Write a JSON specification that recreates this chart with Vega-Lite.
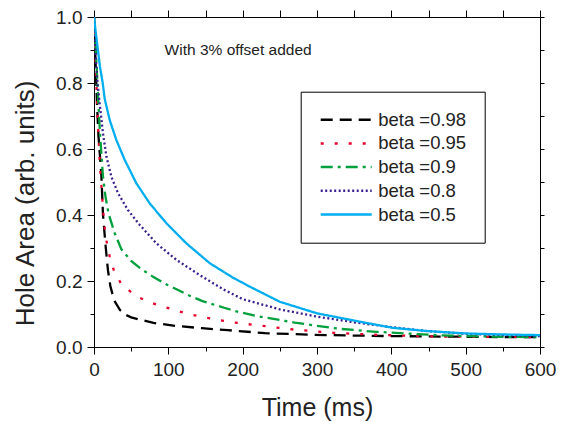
{
  "$schema": "https://vega.github.io/schema/vega-lite/v6.json",
  "width": 446,
  "height": 330,
  "autosize": {"type": "none"},
  "padding": {"left": 94, "top": 17, "right": 27, "bottom": 75},
  "background": "white",
  "config": {
    "font": "Liberation Sans",
    "view": {"stroke": "black", "strokeWidth": 1},
    "axis": {
      "grid": false,
      "domainColor": "black",
      "tickColor": "black",
      "labelColor": "#222",
      "titleColor": "#222",
      "titleFontWeight": "normal",
      "labelFontSize": 19,
      "labelFont": "Liberation Sans",
      "titleFont": "Liberation Sans"
    },
    "legend": {"labelFont": "Liberation Sans"}
  },
  "resolve": {"axis": {"x": "independent", "y": "independent"}},
  "layer": [
    {
      "data": {
        "values": [
          {"s": "beta =0.98", "t": 0, "v": 1.0},
          {"s": "beta =0.98", "t": 2, "v": 0.87},
          {"s": "beta =0.98", "t": 4, "v": 0.74},
          {"s": "beta =0.98", "t": 6, "v": 0.64},
          {"s": "beta =0.98", "t": 8, "v": 0.58},
          {"s": "beta =0.98", "t": 9.9, "v": 0.52},
          {"s": "beta =0.98", "t": 12.1, "v": 0.4},
          {"s": "beta =0.98", "t": 15.7, "v": 0.304},
          {"s": "beta =0.98", "t": 18.8, "v": 0.232},
          {"s": "beta =0.98", "t": 22, "v": 0.185},
          {"s": "beta =0.98", "t": 27, "v": 0.142},
          {"s": "beta =0.98", "t": 35, "v": 0.112},
          {"s": "beta =0.98", "t": 42, "v": 0.098},
          {"s": "beta =0.98", "t": 50, "v": 0.09},
          {"s": "beta =0.98", "t": 60, "v": 0.084},
          {"s": "beta =0.98", "t": 80, "v": 0.073},
          {"s": "beta =0.98", "t": 110, "v": 0.064},
          {"s": "beta =0.98", "t": 145, "v": 0.057},
          {"s": "beta =0.98", "t": 180, "v": 0.051},
          {"s": "beta =0.98", "t": 230, "v": 0.042},
          {"s": "beta =0.98", "t": 295, "v": 0.037},
          {"s": "beta =0.98", "t": 340, "v": 0.035},
          {"s": "beta =0.98", "t": 400, "v": 0.033},
          {"s": "beta =0.98", "t": 450, "v": 0.032},
          {"s": "beta =0.98", "t": 500, "v": 0.031},
          {"s": "beta =0.98", "t": 550, "v": 0.03},
          {"s": "beta =0.98", "t": 600, "v": 0.03},
          {"s": "beta =0.95", "t": 0, "v": 1.0},
          {"s": "beta =0.95", "t": 2, "v": 0.88},
          {"s": "beta =0.95", "t": 4, "v": 0.75},
          {"s": "beta =0.95", "t": 6, "v": 0.64},
          {"s": "beta =0.95", "t": 8, "v": 0.55},
          {"s": "beta =0.95", "t": 9.9, "v": 0.491},
          {"s": "beta =0.95", "t": 12, "v": 0.42},
          {"s": "beta =0.95", "t": 14.4, "v": 0.36},
          {"s": "beta =0.95", "t": 17.5, "v": 0.312},
          {"s": "beta =0.95", "t": 21.1, "v": 0.274},
          {"s": "beta =0.95", "t": 26.9, "v": 0.231},
          {"s": "beta =0.95", "t": 36.9, "v": 0.19},
          {"s": "beta =0.95", "t": 56, "v": 0.155},
          {"s": "beta =0.95", "t": 75, "v": 0.135},
          {"s": "beta =0.95", "t": 94, "v": 0.122},
          {"s": "beta =0.95", "t": 113, "v": 0.109},
          {"s": "beta =0.95", "t": 131, "v": 0.098},
          {"s": "beta =0.95", "t": 151, "v": 0.089},
          {"s": "beta =0.95", "t": 170, "v": 0.081},
          {"s": "beta =0.95", "t": 189, "v": 0.074},
          {"s": "beta =0.95", "t": 227, "v": 0.064},
          {"s": "beta =0.95", "t": 268, "v": 0.053},
          {"s": "beta =0.95", "t": 300, "v": 0.047},
          {"s": "beta =0.95", "t": 322, "v": 0.043},
          {"s": "beta =0.95", "t": 380, "v": 0.037},
          {"s": "beta =0.95", "t": 452, "v": 0.032},
          {"s": "beta =0.95", "t": 520, "v": 0.031},
          {"s": "beta =0.95", "t": 600, "v": 0.03},
          {"s": "beta =0.9", "t": 0, "v": 1.0},
          {"s": "beta =0.9", "t": 2, "v": 0.92},
          {"s": "beta =0.9", "t": 5, "v": 0.78},
          {"s": "beta =0.9", "t": 8, "v": 0.65},
          {"s": "beta =0.9", "t": 9.9, "v": 0.587},
          {"s": "beta =0.9", "t": 12.1, "v": 0.516},
          {"s": "beta =0.9", "t": 15.5, "v": 0.455},
          {"s": "beta =0.9", "t": 19.5, "v": 0.405},
          {"s": "beta =0.9", "t": 27.8, "v": 0.345},
          {"s": "beta =0.9", "t": 36.9, "v": 0.296},
          {"s": "beta =0.9", "t": 50.3, "v": 0.26},
          {"s": "beta =0.9", "t": 63, "v": 0.237},
          {"s": "beta =0.9", "t": 79.4, "v": 0.213},
          {"s": "beta =0.9", "t": 99, "v": 0.188},
          {"s": "beta =0.9", "t": 111, "v": 0.175},
          {"s": "beta =0.9", "t": 126, "v": 0.158},
          {"s": "beta =0.9", "t": 146, "v": 0.139},
          {"s": "beta =0.9", "t": 175, "v": 0.119},
          {"s": "beta =0.9", "t": 193, "v": 0.107},
          {"s": "beta =0.9", "t": 223, "v": 0.092},
          {"s": "beta =0.9", "t": 250, "v": 0.082},
          {"s": "beta =0.9", "t": 270, "v": 0.074},
          {"s": "beta =0.9", "t": 300, "v": 0.064},
          {"s": "beta =0.9", "t": 331, "v": 0.055},
          {"s": "beta =0.9", "t": 380, "v": 0.046},
          {"s": "beta =0.9", "t": 420, "v": 0.041},
          {"s": "beta =0.9", "t": 460, "v": 0.036},
          {"s": "beta =0.9", "t": 501, "v": 0.033},
          {"s": "beta =0.9", "t": 550, "v": 0.031},
          {"s": "beta =0.9", "t": 600, "v": 0.03},
          {"s": "beta =0.8", "t": 0, "v": 1.0},
          {"s": "beta =0.8", "t": 2, "v": 0.9},
          {"s": "beta =0.8", "t": 4, "v": 0.82},
          {"s": "beta =0.8", "t": 7, "v": 0.75},
          {"s": "beta =0.8", "t": 10, "v": 0.69},
          {"s": "beta =0.8", "t": 12.1, "v": 0.647},
          {"s": "beta =0.8", "t": 16.7, "v": 0.577},
          {"s": "beta =0.8", "t": 23.4, "v": 0.516},
          {"s": "beta =0.8", "t": 32.3, "v": 0.466},
          {"s": "beta =0.8", "t": 45.7, "v": 0.415},
          {"s": "beta =0.8", "t": 61.5, "v": 0.37},
          {"s": "beta =0.8", "t": 84, "v": 0.314},
          {"s": "beta =0.8", "t": 110.9, "v": 0.264},
          {"s": "beta =0.8", "t": 142.2, "v": 0.218},
          {"s": "beta =0.8", "t": 173.6, "v": 0.175},
          {"s": "beta =0.8", "t": 200, "v": 0.145},
          {"s": "beta =0.8", "t": 250, "v": 0.114},
          {"s": "beta =0.8", "t": 300, "v": 0.092},
          {"s": "beta =0.8", "t": 350, "v": 0.075},
          {"s": "beta =0.8", "t": 400, "v": 0.06},
          {"s": "beta =0.8", "t": 450, "v": 0.048},
          {"s": "beta =0.8", "t": 500, "v": 0.04},
          {"s": "beta =0.8", "t": 550, "v": 0.036},
          {"s": "beta =0.8", "t": 600, "v": 0.033},
          {"s": "beta =0.5", "t": 0, "v": 1.0},
          {"s": "beta =0.5", "t": 2, "v": 0.96},
          {"s": "beta =0.5", "t": 5, "v": 0.905},
          {"s": "beta =0.5", "t": 8, "v": 0.85},
          {"s": "beta =0.5", "t": 11.7, "v": 0.8},
          {"s": "beta =0.5", "t": 14.4, "v": 0.752},
          {"s": "beta =0.5", "t": 21.1, "v": 0.688},
          {"s": "beta =0.5", "t": 30.1, "v": 0.627},
          {"s": "beta =0.5", "t": 41.3, "v": 0.567},
          {"s": "beta =0.5", "t": 57, "v": 0.496},
          {"s": "beta =0.5", "t": 75, "v": 0.435},
          {"s": "beta =0.5", "t": 97.4, "v": 0.375},
          {"s": "beta =0.5", "t": 124.3, "v": 0.314},
          {"s": "beta =0.5", "t": 155.7, "v": 0.254},
          {"s": "beta =0.5", "t": 187, "v": 0.21},
          {"s": "beta =0.5", "t": 209.5, "v": 0.183},
          {"s": "beta =0.5", "t": 250, "v": 0.137},
          {"s": "beta =0.5", "t": 300, "v": 0.102},
          {"s": "beta =0.5", "t": 357, "v": 0.077},
          {"s": "beta =0.5", "t": 402, "v": 0.058},
          {"s": "beta =0.5", "t": 450, "v": 0.048},
          {"s": "beta =0.5", "t": 501, "v": 0.041},
          {"s": "beta =0.5", "t": 550, "v": 0.038},
          {"s": "beta =0.5", "t": 600, "v": 0.036}
        ]
      },
      "mark": {"type": "line", "strokeWidth": 2.3, "clip": true},
      "encoding": {
        "x": {
          "field": "t", "type": "quantitative",
          "scale": {"domain": [0, 600], "nice": false, "zero": false},
          "axis": {
            "orient": "bottom",
            "title": "Time (ms)",
            "titleFontSize": 25,
            "titleY": 68,
            "titleBaseline": "alphabetic",
            "values": [0, 50, 100, 150, 200, 250, 300, 350, 400, 450, 500, 550, 600],
            "labelExpr": "datum.value % 100 === 0 ? datum.label : ''",
            "tickSize": {"condition": {"test": "datum.value % 100 === 0", "value": 7}, "value": 4},
            "labelBaseline": "alphabetic",
            "labelPadding": 21,
            "labelFlush": false,
            "labelOverlap": false
          }
        },
        "y": {
          "field": "v", "type": "quantitative",
          "scale": {"domain": [0, 1], "nice": false},
          "axis": {
            "orient": "left",
            "title": "Hole Area (arb. units)",
            "titleFontSize": 26,
            "titleX": -61,
            "titleY": 186,
            "titleAngle": -90,
            "titleAlign": "center",
            "titleBaseline": "alphabetic",
            "values": [0, 0.1, 0.2, 0.3, 0.4, 0.5, 0.6, 0.7, 0.8, 0.9, 1.0],
            "format": ".1f",
            "labelExpr": "round(datum.value * 10) % 2 === 0 ? datum.label : ''",
            "tickSize": {"condition": {"test": "round(datum.value * 10) % 2 === 0", "value": 7}, "value": 4},
            "labelPadding": 5,
            "labelFlush": false,
            "labelOverlap": false
          }
        },
        "color": {
          "field": "s", "type": "nominal",
          "scale": {
            "domain": ["beta =0.98", "beta =0.95", "beta =0.9", "beta =0.8", "beta =0.5"],
            "range": ["#000000", "#e4002b", "#00a03c", "#3b1f8f", "#00aeef"]
          },
          "legend": {
            "title": null,
            "orient": "none",
            "legendX": 206.7,
            "legendY": 74.7,
            "padding": 18.5,
            "strokeColor": "black",
            "fillColor": "white",
            "symbolType": "stroke",
            "symbolSize": 2600,
            "symbolStrokeWidth": 2.5,
            "clipHeight": 19,
            "labelFontSize": 18.5,
            "labelColor": "#222",
            "labelOffset": 5,
            "rowPadding": 4.7
          }
        },
        "strokeDash": {
          "field": "s", "type": "nominal",
          "scale": {
            "domain": ["beta =0.98", "beta =0.95", "beta =0.9", "beta =0.8", "beta =0.5"],
            "range": [[12, 7], [3, 11], [12, 5, 3, 5], [2, 2.5], [1, 0]]
          },
          "legend": {
            "title": null,
            "orient": "none",
            "legendX": 206.7,
            "legendY": 74.7,
            "padding": 18.5,
            "strokeColor": "black",
            "fillColor": "white",
            "symbolType": "stroke",
            "symbolSize": 2600,
            "symbolStrokeWidth": 2.5,
            "clipHeight": 19,
            "labelFontSize": 18.5,
            "labelColor": "#222",
            "labelOffset": 5,
            "rowPadding": 4.7
          }
        }
      }
    },
    {
      "data": {"values": [{"label": "With 3% offset added", "t": 95, "v": 0.9}]},
      "mark": {"type": "text", "align": "left", "baseline": "middle", "fontSize": 15.5, "color": "#222", "font": "Liberation Sans"},
      "encoding": {
        "x": {
          "field": "t", "type": "quantitative",
          "axis": {
            "orient": "top", "title": null, "labels": false,
            "values": [0, 50, 100, 150, 200, 250, 300, 350, 400, 450, 500, 550, 600],
            "tickSize": 7
          }
        },
        "y": {
          "field": "v", "type": "quantitative",
          "axis": {
            "orient": "right", "title": null, "labels": false,
            "values": [0, 0.1, 0.2, 0.3, 0.4, 0.5, 0.6, 0.7, 0.8, 0.9, 1.0],
            "tickSize": 4
          }
        },
        "text": {"field": "label"}
      }
    }
  ]
}
